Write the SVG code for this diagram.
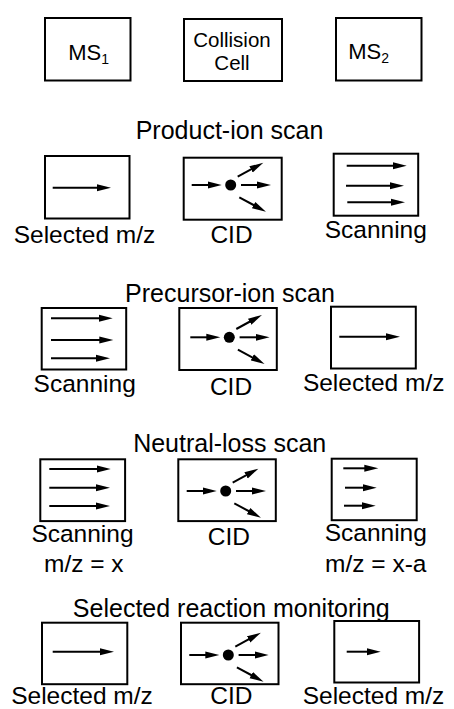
<svg xmlns="http://www.w3.org/2000/svg" xmlns:xlink="http://www.w3.org/1999/xlink" width="454" height="709" viewBox="0 0 454 709">
<style>
text{font-family:"Liberation Sans",Arial,sans-serif;fill:#000}
.t{font-size:25px;text-anchor:middle}
.l{font-size:24.5px;text-anchor:middle}
.cc{font-size:20.5px;text-anchor:middle}
.ms{font-size:22px}
.box{fill:#fff;stroke:#000;stroke-width:2}
.ar{stroke:#000;stroke-width:2;fill:none;marker-end:url(#ah)}
</style>
<defs>
<marker id="ah" markerUnits="userSpaceOnUse" markerWidth="16" markerHeight="8" viewBox="0 -4 16 8" refX="2" refY="0" orient="auto">
<path d="M0,-3.5 L14,0 L0,3.5 Z" fill="#000"/>
</marker>
<g id="cid">
<line class="ar" x1="-39" y1="0" x2="-21" y2="0"/>
<circle cx="0" cy="0" r="5.5" fill="#000"/>
<line class="ar" x1="10.3" y1="0" x2="28.3" y2="0"/>
<line class="ar" x1="7" y1="-8.3" x2="22.1" y2="-16.55"/>
<line class="ar" x1="8.6" y1="12.3" x2="24.7" y2="21"/>
</g>
</defs>
<rect width="454" height="709" fill="#fff"/>

<g id="ms1"><rect class="box" x="45" y="18" width="85.5" height="62.5"/><text class="ms" x="68.3" y="60">MS<tspan font-size="14" dy="3.5">1</tspan></text></g>
<g id="collision-cell"><rect class="box" x="184" y="19" width="98" height="62"/><text class="cc" x="232" y="46.7">Collision</text><text class="cc" x="232" y="70">Cell</text></g>
<g id="ms2"><rect class="box" x="336" y="18" width="85.5" height="62.5"/><text class="ms" x="348.3" y="59.3">MS<tspan font-size="14" dy="3.5">2</tspan></text></g>

<text class="t" x="229.5" y="139.3">Product-ion scan</text>
<g id="a1"><rect class="box" x="45" y="156" width="84.5" height="62.5"/><text class="l" x="84.5" y="242.7">Selected m/z</text></g>
<g id="a2"><rect class="box" x="183.7" y="157.7" width="98" height="62"/><use xlink:href="#cid" x="230.7" y="185"/><text class="l" x="231.5" y="242.7">CID</text></g>
<g id="a3"><rect class="box" x="333.7" y="153.7" width="84.5" height="62"/><text class="l" x="375.8" y="238.3">Scanning</text></g>

<text class="t" x="230" y="301.7">Precursor-ion scan</text>
<g id="b1"><rect class="box" x="41.7" y="308" width="84.5" height="61.5"/><text class="l" x="84.7" y="391.7">Scanning</text></g>
<g id="b2"><rect class="box" x="179.3" y="308" width="97.5" height="62"/><use xlink:href="#cid" x="229.3" y="337.3"/><text class="l" x="231" y="395">CID</text></g>
<g id="b3"><rect class="box" x="331" y="306.7" width="84.8" height="61.8"/><text class="l" x="373.7" y="390.7">Selected m/z</text></g>

<text class="t" x="229.7" y="451.7">Neutral-loss scan</text>
<g id="c1"><rect class="box" x="40.3" y="459.3" width="84.8" height="61.8"/><text class="l" x="82.5" y="541.7">Scanning</text><text class="l" x="83.8" y="571.7">m/z = x</text></g>
<g id="c2"><rect class="box" x="178.3" y="459.3" width="97.5" height="61.8"/><use xlink:href="#cid" x="225.7" y="491"/><text class="l" x="228.8" y="545">CID</text></g>
<g id="c3"><rect class="box" x="331.7" y="458.7" width="85" height="61.5"/><text class="l" x="375.8" y="541">Scanning</text><text class="l" x="375.8" y="571.7">m/z = x-a</text></g>

<text class="t" x="231.3" y="616.7">Selected reaction monitoring</text>
<g id="d1"><rect class="box" x="42" y="622.7" width="85.3" height="61.5"/><text class="l" x="82" y="704">Selected m/z</text></g>
<g id="d2"><rect class="box" x="181" y="622.7" width="97.5" height="61.5"/><use xlink:href="#cid" x="228.3" y="655"/><text class="l" x="231.3" y="704">CID</text></g>
<g id="d3"><rect class="box" x="334.3" y="621" width="84.8" height="61.5"/><text class="l" x="373.5" y="704">Selected m/z</text></g>

<g id="connectors">
<line class="ar" x1="52.7" y1="187.7" x2="99" y2="187.7"/>
<line class="ar" x1="346.7" y1="165.7" x2="394.7" y2="165.7"/>
<line class="ar" x1="346" y1="185.7" x2="392" y2="185.7"/>
<line class="ar" x1="347.3" y1="202.3" x2="393" y2="202.3"/>
<line class="ar" x1="51" y1="318.3" x2="100.7" y2="318.3"/>
<line class="ar" x1="51" y1="340" x2="101.3" y2="340"/>
<line class="ar" x1="51" y1="358.3" x2="98" y2="358.3"/>
<line class="ar" x1="339.3" y1="336.7" x2="388" y2="336.7"/>
<line class="ar" x1="49.3" y1="469" x2="98.7" y2="469"/>
<line class="ar" x1="49.3" y1="487.7" x2="98" y2="487.7"/>
<line class="ar" x1="49.3" y1="506" x2="98" y2="506"/>
<line class="ar" x1="343.3" y1="468.3" x2="366.3" y2="468.3"/>
<line class="ar" x1="345" y1="487.7" x2="364.7" y2="487.7"/>
<line class="ar" x1="344" y1="505.7" x2="363.7" y2="505.7"/>
<line class="ar" x1="52.7" y1="651.7" x2="102" y2="651.7"/>
<line class="ar" x1="346.7" y1="651.7" x2="368.7" y2="651.7"/>
</g>
</svg>
